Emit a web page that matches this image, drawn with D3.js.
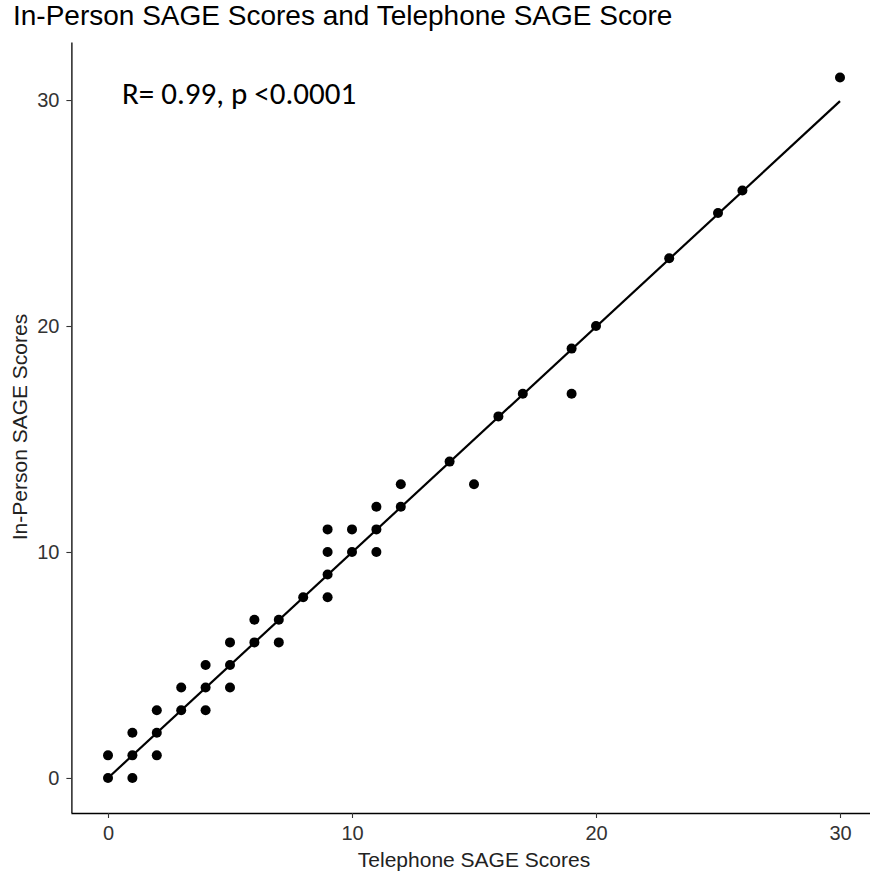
<!DOCTYPE html>
<html><head><meta charset="utf-8">
<script src="https://cdn.jsdelivr.net/npm/d3@7"></script>
<style>body{margin:0;background:#fff}svg{display:block}</style>
</head><body>
<script>
const telephone = [0,0,1,1,1,2,2,2,3,3,4,4,4,5,5,5,6,6,7,7,8,9,9,9,9,10,10,11,11,11,12,12,14,15,16,17,19,19,20,23,25,26,30];
const inPerson  = [0,1,0,1,2,1,2,3,3,4,3,4,5,4,5,6,6,7,6,7,8,8,9,10,11,10,11,10,11,12,12,13,14,13,16,17,17,19,20,23,25,26,31];
const fitX = [0, 30];
const fitY = [0.0, 29.95];
const xTicks = [0,10,20,30];
const yTicks = [0,10,20,30];
const titleText = "In-Person SAGE Scores and Telephone SAGE Score";
const annotation = "R= 0.99, p <0.0001";

const W = 870, H = 877;
const FONT = "'Liberation Sans', Arial, sans-serif";
const svg = d3.select("body").append("svg").attr("width", W).attr("height", H);
const x = d3.scaleLinear().domain([-1.5, 31.5]).range([71.4, 876.6]);
const y = d3.scaleLinear().domain([-1.55, 32.55]).range([813, 42.4]);

svg.append("text").attr("x", 13).attr("y", 25).text(titleText)
  .attr("font-family", FONT).attr("font-size", 28).attr("fill", "#000");

const xa = svg.append("g").attr("transform", "translate(0,813)")
  .call(d3.axisBottom(x).tickValues(xTicks).tickSize(5).tickPadding(8).tickFormat(d3.format("d")));
const ya = svg.append("g").attr("transform", "translate(71.4,0)")
  .call(d3.axisLeft(y).tickValues(yTicks).tickSize(5).tickPadding(7).tickFormat(d3.format("d")));
[xa, ya].forEach(a => {
  a.select(".domain").attr("stroke", "#000").attr("stroke-width", 1.3);
  a.selectAll(".tick line").attr("stroke", "#333").attr("stroke-width", 1.1);
  a.selectAll(".tick text").attr("font-family", FONT)
    .attr("font-size", 20).attr("fill", "#333");
});
xa.select(".domain").attr("d", "M71.4,0.5H870");
ya.select(".domain").attr("d", "M0.5,813V42.4");

svg.append("text").attr("x", 474).attr("y", 867).attr("text-anchor", "middle")
  .text("Telephone SAGE Scores").attr("font-family", FONT)
  .attr("font-size", 21).attr("fill", "#222");
svg.append("text").attr("transform", "translate(27,427) rotate(-90)").attr("text-anchor", "middle")
  .text("In-Person SAGE Scores").attr("font-family", FONT)
  .attr("font-size", 21).attr("fill", "#222");

svg.append("g").selectAll("circle").data(telephone.map((t,i)=>[t, inPerson[i]])).join("circle")
  .attr("cx", d => x(d[0])).attr("cy", d => y(d[1])).attr("r", 5).attr("fill", "#000");

svg.append("path").datum(fitX.map((v,i)=>[v, fitY[i]]))
  .attr("d", d3.line().x(d => x(d[0])).y(d => y(d[1])))
  .attr("stroke", "#000").attr("stroke-width", 2.2).attr("fill", "none");

svg.append("text").attr("x", 122).attr("y", 104).text(annotation)
  .attr("font-family", "Carlito, Lato, 'Open Sans', sans-serif").attr("font-size", 31).attr("fill", "#000");
</script>
</body></html>
